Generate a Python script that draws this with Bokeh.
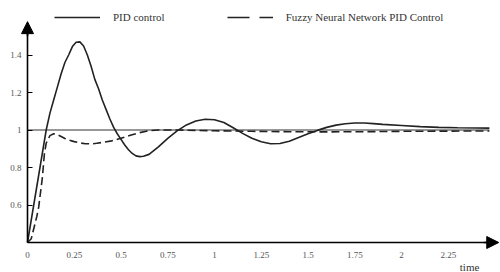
from bokeh.plotting import figure
from bokeh.models import (Range1d, FixedTicker, Legend, LegendItem, Arrow, NormalHead,
                          Label, ColumnDataSource)
from bokeh.embed import file_html
from bokeh.resources import INLINE

# ---- data ----
pid_t = [0.00, 0.02, 0.04, 0.06, 0.08, 0.10, 0.12, 0.14, 0.16, 0.18, 0.20, 0.22, 0.24,
         0.26, 0.28, 0.30, 0.32, 0.34, 0.36, 0.38, 0.40, 0.42, 0.44, 0.46, 0.48, 0.50,
         0.52, 0.54, 0.56, 0.58, 0.60, 0.62, 0.65, 0.70, 0.75, 0.80, 0.85, 0.90, 0.95,
         1.00, 1.05, 1.10, 1.15, 1.20, 1.25, 1.30, 1.35, 1.40, 1.45, 1.50, 1.55, 1.60,
         1.65, 1.70, 1.75, 1.80, 1.85, 1.90, 2.00, 2.10, 2.20, 2.30, 2.40, 2.47]
pid_y = [0.40, 0.52, 0.64, 0.76, 0.88, 1.00, 1.09, 1.16, 1.23, 1.30, 1.36, 1.40, 1.445,
         1.468, 1.470, 1.448, 1.40, 1.34, 1.27, 1.22, 1.16, 1.11, 1.06, 1.015, 0.98, 0.95,
         0.92, 0.895, 0.875, 0.862, 0.858, 0.86, 0.87, 0.91, 0.955, 0.995, 1.027, 1.048, 1.057,
         1.055, 1.04, 1.012, 0.982, 0.956, 0.937, 0.927, 0.928, 0.94, 0.96, 0.98, 0.998, 1.014,
         1.026, 1.033, 1.037, 1.037, 1.034, 1.03, 1.024, 1.018, 1.014, 1.012, 1.011, 1.010]

fz_t = [0.00, 0.02, 0.03, 0.05, 0.06, 0.08, 0.09, 0.10, 0.12, 0.14, 0.16, 0.18, 0.20,
        0.22, 0.25, 0.28, 0.31, 0.34, 0.37, 0.40, 0.45, 0.50, 0.55, 0.60, 0.65, 0.70,
        0.80, 0.90, 1.00, 1.20, 1.40, 1.60, 1.80, 2.00, 2.20, 2.47]
fz_y = [0.40, 0.42, 0.46, 0.54, 0.59, 0.75, 0.87, 0.93, 0.97, 0.98, 0.975, 0.965, 0.955,
        0.947, 0.938, 0.931, 0.927, 0.926, 0.929, 0.934, 0.942, 0.956, 0.972, 0.986, 0.996, 1.0,
        1.0, 0.998, 0.996, 0.993, 0.991, 0.990, 0.991, 0.993, 0.994, 0.995]

ref_t = [0.0, 2.47]
ref_y = [1.0, 1.0]

x_ticks = [0, 0.25, 0.5, 0.75, 1, 1.25, 1.5, 1.75, 2, 2.25]
x_labels = ["0", "0.25", "0.5", "0.75", "1", "1.25", "1.5", "1.75", "2", "2.25"]
y_ticks = [0.6, 0.8, 1.0, 1.2, 1.4]
y_labels = ["0.6", "0.8", "1", "1.2", "1.4"]

series_names = ["PID control", "Fuzzy Neural Network PID Control"]
x_title = "time"

FONT = "Liberation Serif"
INK = "#222222"

p = figure(width=500, height=272, output_backend="svg", toolbar_location=None,
           x_range=Range1d(-0.1444, 2.5294), y_range=Range1d(0.24, 1.6907),
           min_border=0)
p.outline_line_color = None
p.grid.visible = False
p.background_fill_color = "white"

# axes placed through the data origin
p.xaxis.fixed_location = 0.4
p.yaxis.fixed_location = 0
p.xaxis.ticker = FixedTicker(ticks=x_ticks)
p.xaxis.major_label_overrides = {t: l for t, l in zip(x_ticks, x_labels)}
p.yaxis.ticker = FixedTicker(ticks=y_ticks)
p.yaxis.major_label_overrides = {t: l for t, l in zip(y_ticks, y_labels)}
p.xaxis.bounds = (0, 2.47)
p.yaxis.bounds = (0.4, 1.53)
for ax in (p.xaxis, p.yaxis):
    ax.axis_line_width = 1.6
    ax.axis_line_color = "black"
    ax.minor_tick_line_color = None
    ax.major_label_text_font = FONT
    ax.major_label_text_font_size = "9px"
    ax.major_label_text_color = "#555555"
p.xaxis.major_tick_line_color = None
p.xaxis.major_label_standoff = 3
p.yaxis.major_tick_in = 5
p.yaxis.major_tick_out = 0
p.yaxis.major_tick_line_color = "black"
p.yaxis.major_tick_line_width = 1.2
p.yaxis.major_label_standoff = 6

# axis arrows
p.add_layout(Arrow(end=NormalHead(size=12, fill_color="black", line_color="black"),
                   x_start=0, y_start=1.50, x_end=0, y_end=1.578, line_width=1.6))
p.add_layout(Arrow(end=NormalHead(size=12, fill_color="black", line_color="black"),
                   x_start=2.44, y_start=0.4, x_end=2.52, y_end=0.4, line_width=1.6))

# curves
p.line(ref_t, ref_y, line_color="#333333", line_width=1.2)
r_pid = p.line(pid_t, pid_y, line_color=INK, line_width=1.6)
r_fz = p.line(fz_t, fz_y, line_color=INK, line_width=1.6, line_dash="8 4")

# legend samples (styled like the picture's key)
key_src = ColumnDataSource(data=dict(x=[float("nan")], y=[float("nan")]))
k_pid = p.line("x", "y", source=key_src, line_color=INK, line_width=1.5)
k_fz = p.line("x", "y", source=key_src, line_color=INK, line_width=1.5, line_dash="22 10")

legend = Legend(items=[LegendItem(label=series_names[0], renderers=[k_pid]),
                       LegendItem(label=series_names[1], renderers=[k_fz])],
                orientation="horizontal", location=(54, 248),
                padding=0, margin=0, spacing=62, glyph_width=46, glyph_height=14,
                label_height=14, label_standoff=13,
                label_text_font=FONT, label_text_font_size="11px",
                label_text_color="#333333",
                border_line_alpha=0, background_fill_alpha=0)
p.add_layout(legend)

p.add_layout(Label(x=2.364, y=0.2667, text=x_title, text_font=FONT, text_font_size="11px",
                   text_color="#333333", text_align="center", text_baseline="middle"))

open("out.html", "w").write(file_html(p, INLINE))
